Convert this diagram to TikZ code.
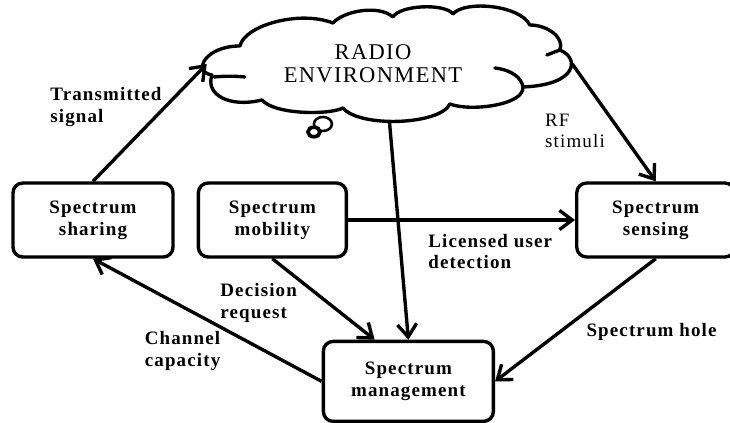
\documentclass[tikz,border=0pt]{standalone}
\usepackage{fontspec}
\setmainfont{Liberation Serif}[LetterSpace=6]
\usetikzlibrary{arrows.meta,positioning}

\begin{document}
\begin{tikzpicture}[
      box/.style={
         rectangle,
         rounded corners=7pt,
         draw=black,
         line width=2.4pt,
         align=center,
         inner sep=0pt,
         minimum height=1.85cm,
         font=\fontsize{13.5}{15.6}\selectfont\bfseries},
      env_area/.style={
         rectangle,
         inner sep=0pt,
         minimum width=9.125cm,
         minimum height=2.9cm},
      cloud_line/.style={
         line width=2.4pt,
         line cap=round,
         line join=round},
      arrow_black/.style={
         -{Straight Barb[length=3.2mm,width=4.8mm]},
         line width=2.4pt,
         },
      lbl/.style={
         align=left,
         inner sep=1pt,
         font=\fontsize{13.5}{15.6}\selectfont\bfseries},
      lbl_thin/.style={
         lbl,
         font=\fontsize{13.5}{15.6}\selectfont}
]
      \useasboundingbox (0,0) rectangle (18.25,10.55);

      %radio environment (cloud drawn in pixel units)
      \begin{scope}[yshift=10.55cm, x=0.025cm, y=-0.025cm]
        \draw[cloud_line, fill=white] (212,75)
          .. controls (192,72) and (205,46) .. (240,46)
          .. controls (245,25) and (300,10) .. (333,23)
          .. controls (345,10) and (380,5) .. (393,17)
          .. controls (400,5) and (445,3) .. (453,14)
          .. controls (465,0) and (520,5) .. (530,25)
          .. controls (548,25) and (565,38) .. (560,50)
          .. controls (580,58) and (578,85) .. (523,87)
          .. controls (525,105) and (470,112) .. (450,104)
          .. controls (440,125) and (360,128) .. (343,108)
          .. controls (330,115) and (275,115) .. (262,100)
          .. controls (230,108) and (205,95) .. (212,75) -- cycle;
        \draw[cloud_line] (214,77) .. controls (225,76) and (235,76) .. (245,77);
        \draw[cloud_line] (495,68) .. controls (512,70) and (522,78) .. (523,87);
        \draw[cloud_line] (547,55) -- (560,50);
        \draw[line width=1.8pt, fill=white] (323,124) ellipse [x radius=0.225cm, y radius=0.175cm];
        \draw[line width=2.6pt, fill=white] (314,132) ellipse [x radius=0.15cm, y radius=0.12cm];
      \end{scope}
      \node[env_area] (env) at (9.7375,8.95) {};
      \node[font=\fontsize{16}{16.3}\selectfont, align=center] (envtext) at (9.325,8.96) {RADIO\\ENVIRONMENT};

      %functions
      \node[box, minimum width=4cm] (sharing) at (2.325,5.05) {Spectrum\\sharing};
      \node[box, minimum width=3.7cm, right=0.55cm of sharing] (mobility) {Spectrum\\mobility};
      \node[box, minimum width=3.95cm, right=5.675cm of mobility] (sensing) {Spectrum\\sensing};
      \node[box, minimum width=4.25cm, minimum height=2cm, below right=2.025cm and 3.675cm of sharing] (mgmt) {Spectrum\\management};

      \draw [arrow_black] (sharing.north) -- node[lbl, pos=0.63, left] (tx) {Transmitted\\signal} (env.west);
      \draw [arrow_black] (env.east) -- node[lbl_thin, pos=0.57, left=3mm] (rf) {RF\\stimuli} (sensing.north);
      \draw [arrow_black] (env.south) -- (mgmt.north);
      \draw [arrow_black] (mobility.east) -- node[lbl, pos=0.34, anchor=north west, yshift=-2.7mm] (lud) {Licensed user\\detection} (sensing.west);
      \draw [arrow_black] (mobility.south) -- node[lbl, pos=0.27, below left] (dr) {Decision\\request} (mgmt.129);
      \draw [arrow_black] (sensing.south) -- node[lbl, pos=0.5, anchor=north west, xshift=2mm] (hole) {Spectrum hole} (mgmt.east);
      \draw [arrow_black] (mgmt.west) -- node[lbl, pos=0.43, below left] (cc) {Channel\\capacity} (sharing.south);

\end{tikzpicture}
\end{document}
